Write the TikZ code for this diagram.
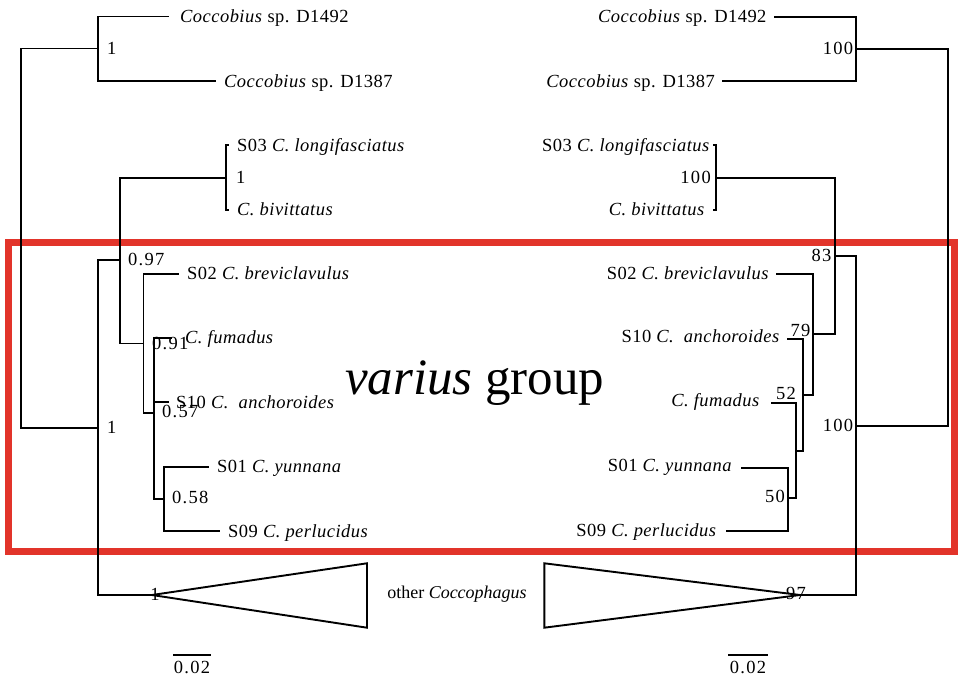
\documentclass[tikz,border=0pt]{standalone}
\usepackage{fontspec}
\setmainfont{Liberation Serif}
\newfontfamily\labfont[LetterSpace=2.5]{Liberation Serif}
\newfontfamily\numfont[LetterSpace=7]{Liberation Serif}
\definecolor{boxred}{RGB}{226,52,42}
\begin{document}
\begin{tikzpicture}[x=1pt,y=-1pt,
  br/.style={line width=1.9pt, line cap=rect, line join=miter},
  leaf/.style={inner sep=0pt, text height=12.3pt, text depth=0pt, font=\labfont\fontsize{18.5}{20}\selectfont},
  sup/.style={inner sep=0pt, text height=12.3pt, text depth=0pt, font=\numfont\fontsize{18.5}{20}\selectfont},
  redbox/.style={draw=boxred, line width=7pt}]
\useasboundingbox (0,0) rectangle (959,676);
% red frame
\draw[redbox] (8.7,243) rectangle (954.5,551.7);
% big label
\node[anchor=base west, inner sep=0pt, font=\fontsize{51}{55}\selectfont] (vg) at (345,395) {\textit{varius} group};

% ---------------- left tree ----------------
\draw[br] (98,48.5) -- (20.7,48.5) -- (20.7,427.7) -- (98,427.7);
\draw[br] (168,16.5) -- (98,16.5) -- (98,81) -- (215,81);
\draw[br] (228,145) -- (226,145) -- (226,210) -- (228,210);
\draw[br] (226,177.7) -- (120,177.7) -- (120,343.5) -- (143.5,343.5);
\draw[br] (120,260) -- (98,260) -- (98,595) -- (152,595);
\draw[br] (178,274) -- (143.5,274) -- (143.5,413) -- (154.3,413);
\draw[br] (171,338) -- (154.3,338) -- (154.3,499) -- (164.3,499);
\draw[br] (154.3,402) -- (168.3,402);
\draw[br] (208,467) -- (164.3,467) -- (164.3,531) -- (219.3,531);
\draw[br] (152,595) -- (367,563.3) -- (367,627.7) -- cycle;

\node[leaf, anchor=west] (l1) at (180,16) {\textit{Coccobius} sp. D1492};
\node[leaf, anchor=west] (l2) at (224,81) {\textit{Coccobius} sp. D1387};
\node[leaf, anchor=west] (l3) at (237,145) {S03 \textit{C. longifasciatus}};
\node[leaf, anchor=west] (l4) at (237,209) {\textit{C. bivittatus}};
\node[leaf, anchor=west] (l5) at (187,273) {S02 \textit{C. breviclavulus}};
\node[leaf, anchor=west] (l6) at (185,337) {\textit{C. fumadus}};
\node[leaf, anchor=west] (l7) at (176,402.5) {S10 \textit{C.\ \ anchoroides}};
\node[leaf, anchor=west] (l8) at (217,466.5) {S01 \textit{C. yunnana}};
\node[leaf, anchor=west] (l9) at (228,531) {S09 \textit{C. perlucidus}};

\node[sup, anchor=west] (s1) at (107,48) {1};
\node[sup, anchor=west] (s2) at (236,177) {1};
\node[sup, anchor=west] (s3) at (128,259) {0.97};
\node[sup, anchor=west] (s4) at (152,343) {0.91};
\node[sup, anchor=west] (s5) at (162,411.5) {0.57};
\node[sup, anchor=west] (s6) at (107,427) {1};
\node[sup, anchor=west] (s7) at (172,497) {0.58};
\node[sup] (s8) at (155,594) {1};

% ---------------- right tree ----------------
\draw[br] (775,16.7) -- (856,16.7) -- (856,81) -- (723.3,81);
\draw[br] (856,49.3) -- (947.7,49.3) -- (947.7,426) -- (856,426);
\draw[br] (714,145) -- (716,145) -- (716,210) -- (714,210);
\draw[br] (716,177.7) -- (835,177.7) -- (835,334.3) -- (812.7,334.3);
\draw[br] (835,255.7) -- (856,255.7) -- (856,595) -- (800,595);
\draw[br] (776.7,274) -- (812.7,274) -- (812.7,395) -- (802.7,395);
\draw[br] (788.3,339) -- (802.7,339) -- (802.7,450.7) -- (796,450.7);
\draw[br] (771.7,402.7) -- (796,402.7) -- (796,498.3) -- (787.7,498.3);
\draw[br] (741.7,467.7) -- (787.7,467.7) -- (787.7,530.7) -- (727.3,530.7);
\draw[br] (800,595) -- (544.3,563.3) -- (544.3,627.7) -- cycle;

\node[leaf, anchor=east] (r1) at (766.7,16) {\textit{Coccobius} sp. D1492};
\node[leaf, anchor=east] (r2) at (715,81) {\textit{Coccobius} sp. D1387};
\node[leaf, anchor=east] (r3) at (710,145) {S03 \textit{C. longifasciatus}};
\node[leaf, anchor=east] (r4) at (705,209) {\textit{C. bivittatus}};
\node[leaf, anchor=east] (r5) at (769.3,273) {S02 \textit{C. breviclavulus}};
\node[leaf, anchor=east] (r6) at (780,336.7) {S10 \textit{C.\ \ anchoroides}};
\node[leaf, anchor=east] (r7) at (760,400.7) {\textit{C. fumadus}};
\node[leaf, anchor=east] (r8) at (732.3,465.3) {S01 \textit{C. yunnana}};
\node[leaf, anchor=east] (r9) at (716.7,530) {S09 \textit{C. perlucidus}};

\node[sup, anchor=east] (t1) at (853.3,48) {100};
\node[sup, anchor=east] (t2) at (711,177) {100};
\node[sup, anchor=east] (t3) at (831.7,255) {83};
\node[sup, anchor=east] (t4) at (810.7,330) {79};
\node[sup, anchor=east] (t5) at (796,393.3) {52};
\node[sup, anchor=east] (t6) at (853.3,425) {100};
\node[sup, anchor=east] (t7) at (785,496.7) {50};
\node[sup] (t8) at (796,593) {97};

% collapsed clade label
\node[inner sep=0pt, text height=12.3pt, text depth=0pt, font=\fontsize{18}{20}\selectfont] (oc) at (457,592) {other \textit{Coccophagus}};

% scale bars
\draw[br, line cap=butt] (173,655) -- (211,655);
\node[sup] (sc1) at (192,667) {0.02};
\draw[br, line cap=butt] (728,655) -- (767.6,655);
\node[sup] (sc2) at (748,667) {0.02};
\end{tikzpicture}
\end{document}
